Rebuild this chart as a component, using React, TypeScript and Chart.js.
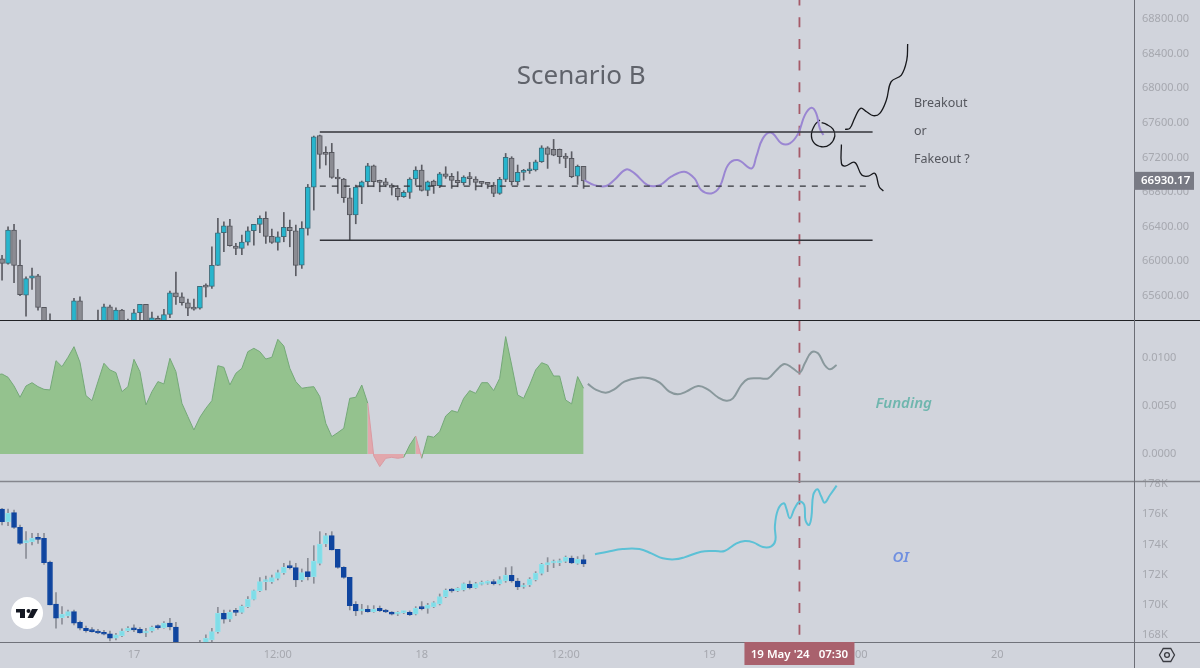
import React, { useEffect, useRef } from 'react';
import Chart from 'chart.js/auto';

// half-hour bars, x = number of bars since 17 May 00:00
const firstBar = -22;

const priceOpen = [66030,65976,66361,65953,65610,65806,65833,65467,65205,65020,64880,64980,65205,65544,65200,65120,65210,65205,65475,65244,65436,65300,65244,65406,65502,65282,65340,65301,65386,65637,65590,65521,65459,65459,65718,65710,65953,66330,66411,66176,66149,66222,66353,66427,66496,66288,66219,66284,66392,66353,65957,66381,66858,67452,67259,67259,66970,66951,66735,66535,66858,66920,67105,66928,66920,66881,66843,66747,66797,66951,67055,66820,66928,66874,67012,66982,66935,66908,66966,66951,66912,66901,66881,66785,66947,67194,66920,67028,67047,67055,67151,67313,67294,67294,67217,67190,66985,67097];
const priceClose = [65976,66361,65953,65614,65802,65833,65467,65128,65013,64900,64990,65110,65544,65205,65120,65220,65290,65475,65205,65436,65205,65200,65406,65502,65301,65348,65282,65386,65637,65590,65521,65459,65448,65710,65702,65953,66330,66411,66180,66149,66222,66353,66427,66496,66288,66219,66284,66392,66353,65953,66381,66858,67440,67236,67236,66970,66951,66735,66535,66858,66920,67105,66920,66912,66881,66854,66747,66797,66951,67055,66820,66920,66874,67012,66982,66935,66908,66974,66955,66912,66901,66889,66785,66947,67201,66920,67028,67047,67055,67151,67313,67236,67228,67209,67190,66978,67097,66928];
const priceHigh = [66068,66400,66427,66246,65822,65922,65849,65467,65394,65100,65050,65170,65571,65590,65250,65270,65436,65506,65494,65463,65444,65332,65444,65502,65502,65413,65367,65444,65656,65876,65637,65564,65564,65710,65741,66168,66496,66457,66484,66207,66303,66400,66427,66527,66573,66373,66342,66565,66477,66419,66458,66889,67448,67459,67325,67363,67063,66959,66843,66881,66928,67132,67113,66939,66959,66897,66874,66816,66966,67093,67113,66928,66939,67028,67093,67016,67036,66989,67028,66978,66920,66912,66912,66970,67247,67209,67113,67063,67143,67170,67336,67325,67409,67298,67247,67267,67113,67097];
const priceLow = [65783,65968,65752,65602,65367,65675,65436,65051,64974,64850,64850,64950,65128,65147,65090,65100,65190,65180,65190,65220,65190,65180,65230,65321,65290,65270,65270,65290,65348,65502,65494,65371,65436,65448,65590,65687,65953,66111,66176,66076,66076,66188,66188,66330,66207,66207,66130,66226,66168,65833,65918,66303,66592,67074,67113,66959,66785,66681,66246,66434,66666,66862,66862,66804,66862,66766,66708,66739,66727,66881,66812,66758,66785,66851,66959,66843,66862,66881,66881,66824,66862,66843,66747,66774,66920,66881,66881,66939,67016,67043,67143,67074,67220,67132,67082,66966,66889,66843];
const lastPrice = 66930.17;

const oiOpen = [176345,175506,176102,175131,174116,174182,174447,174403,172836,170055,169150,169261,169548,168841,168444,168334,168267,168179,168069,167782,167959,168290,168400,168378,168135,168267,168554,168488,168797,168532,166899,166240,165900,166400,167451,167672,168223,169437,169040,169548,169503,169879,170364,170938,171534,171534,171755,172130,172527,172461,171644,172196,171865,172748,174028,174579,173675,172483,171821,170033,169592,169702,169548,169768,169636,169525,169371,169481,169503,169371,169812,169768,169879,170055,170541,170960,170938,170982,171357,171137,171357,171424,171490,171401,171578,171953,171578,171181,171313,171666,172086,172637,172770,172792,172880,173101,172748,172990];
const oiClose = [175506,176058,175131,174072,174182,174403,174337,172792,169989,169106,169371,169548,168775,168444,168290,168223,168135,168047,167782,168003,168267,168444,168334,168135,168267,168532,168488,168797,168532,166899,166240,165900,166400,167450,167782,168223,169437,169040,169503,169503,169923,170364,170938,171534,171578,171799,172130,172483,172461,171644,172130,171865,172902,174028,174579,173630,172483,171821,169945,169592,169702,169548,169724,169614,169525,169371,169503,169525,169349,169768,169746,169989,170144,170541,170982,170916,171092,171401,171137,171401,171446,171468,171401,171666,171953,171578,171181,171313,171710,172108,172681,172792,172814,172924,173145,172770,173035,172703];
const oiHigh = [176389,176345,176279,175286,174844,174734,174734,174734,172902,170805,169879,169658,169658,168929,168598,168488,168378,168312,168267,168113,168400,168554,168665,168488,168444,168598,168665,168885,169106,168841,166950,166300,166450,167650,168003,168444,169835,169658,169658,169768,169989,170541,170982,171799,171909,171975,172306,172748,172902,172748,172372,173079,173917,174844,174734,174844,173675,172527,171821,170210,170033,169945,169945,169923,169702,169548,169548,169570,169592,169879,170210,170099,170210,170717,171048,171092,171137,171446,171578,171490,171578,171578,171666,171865,172461,172527,171755,171424,171799,172196,172748,173123,172968,173035,173233,173233,173189,173300];
const oiLow = [175286,175242,175065,174006,173079,173961,174072,172681,169989,168444,168709,169150,168665,168334,168179,168179,168091,168003,167605,167672,167892,168223,168223,168113,167892,168179,168378,168444,168334,166678,166100,165800,165850,166300,167340,167561,168113,168775,168885,169283,169437,169812,170320,170872,170982,171424,171644,172019,172372,171203,171534,171644,171424,172637,173851,173630,172417,171755,169658,169283,169371,169503,169503,169548,169481,169327,169283,169415,169283,169327,169658,169437,169812,169989,170474,170828,170872,170916,171048,171092,171313,171357,171313,171313,171490,171490,171004,171092,171203,171578,171975,172196,172461,172593,172792,172726,172681,172527];

// funding starts one bar earlier so the area reaches the left edge
const fundingFirstBar = -23;
const fundingValues = [0.00818,0.00828,0.00794,0.00704,0.00587,0.00704,0.00738,0.00697,0.00669,0.00663,0.00966,0.00904,0.01001,0.01111,0.00949,0.00604,0.00552,0.00749,0.00939,0.0087,0.00842,0.00645,0.00697,0.0098,0.00852,0.00507,0.00645,0.00749,0.00725,0.0099,0.00852,0.00525,0.00386,0.00248,0.0038,0.00473,0.00552,0.00914,0.00897,0.00714,0.00835,0.00887,0.01059,0.01094,0.01059,0.00983,0.01001,0.01187,0.01118,0.00887,0.00749,0.0068,0.0069,0.00697,0.00594,0.00317,0.00179,0.00221,0.00266,0.00576,0.00587,0.00714,0.00525,-0.00021,-0.00131,-0.00045,-0.00035,-0.00045,-0.00035,0.00093,0.00186,-0.00045,0.00186,0.00173,0.00231,0.00393,0.00449,0.00431,0.00576,0.00656,0.00628,0.00738,0.00738,0.00656,0.00783,0.01215,0.00921,0.00611,0.00576,0.00714,0.0087,0.00945,0.00921,0.00807,0.00807,0.00559,0.00518,0.00801,0.0068];
const fundingRedSegments = [62, 63, 64, 65, 66, 67, 70];

// hand drawn forecasts, [bar, value]
const pricePath = [[75.1,66939],[76.8,66881],[78.75,66870],[80.1,66939],[82.1,67062],[83.5,67016],[85.7,66881],[87.7,66881],[89.6,66978],[91.8,67036],[93.5,66958],[94.6,66824],[96.3,66785],[97.7,66862],[99.1,67113],[100.7,67170],[103,67074],[103.8,67209],[104.9,67421],[106.3,67486],[108,67363],[109.4,67363],[110.8,67479],[111.9,67690],[113,67775],[113.8,67710],[114.4,67536],[115,67459]];
const circlePath = [[114.4,67633],[113.56,67575],[113,67471],[113.4,67371],[114.7,67324],[116.07,67351],[116.9,67448],[116.6,67529],[115.5,67583],[114.7,67602]];
const breakoutPath = [[118.6,67525],[119.4,67536],[120.2,67652],[121.2,67768],[122.2,67729],[123.3,67683],[124.4,67710],[125.5,67864],[126.3,68076],[128,68153],[128.9,68326],[129.05,68511]];
const fakeoutPath = [[118,67351],[118,67132],[118.6,67101],[120.2,67143],[121.4,66997],[122.5,66985],[123.6,67016],[124.3,66862],[125,66812]];
const fundingPath = [[75.7,0.00725],[77.1,0.00663],[78.7,0.00635],[80.1,0.00669],[81.8,0.00749],[84.3,0.0079],[86,0.00783],[87.7,0.00738],[89.3,0.00645],[90.7,0.00618],[92.1,0.00645],[94.1,0.00704],[95.7,0.00669],[97.4,0.00587],[98.8,0.00552],[99.9,0.00576],[101.3,0.00714],[102.4,0.00776],[104.4,0.00783],[105.8,0.00783],[107.2,0.0087],[108.5,0.00932],[109.9,0.00887],[111.05,0.00842],[111.9,0.00939],[113,0.01052],[114.1,0.01042],[115.2,0.00921],[116.1,0.00876],[117.2,0.00921]];
const oiPath = [[76.9,173342],[79,173518],[81.5,173695],[84.3,173695],[86.3,173408],[88.2,173077],[90.2,173011],[91.8,173143],[94.6,173518],[96.9,173563],[98.5,173563],[100.5,174070],[101.9,174225],[103.3,174137],[104.9,173828],[106.3,173872],[107,174291],[106.9,175174],[107.4,176278],[108.4,176719],[108.8,176388],[109.4,175726],[110.2,176388],[111,176829],[111.8,176608],[112,175615],[112.6,175284],[113,175836],[113.3,177270],[114,177646],[114.6,177204],[115.2,176763],[116.1,177270],[117.2,177888]];

const rangeTop = 67494;
const rangeMid = 66870;
const rangeBottom = 66245;
const rangeStart = 31;
const rangeEnd = 123.2;
const rangeMidEnd = 122.4;

const markerBar = 111;
const markerLabel = "19 May '24   07:30";

const priceTicks = [68800, 68400, 68000, 67600, 67200, 66800, 66400, 66000, 65600];
const fundingTicks = [0.01, 0.005, 0];
const oiTicks = [178000, 176000, 174000, 172000, 170000, 168000];
const timeTicks = [0, 24, 48, 72, 96, 120, 144];
const timeLabels = ['17', '12:00', '18', '12:00', '19', '12:00', '20'];

const tickColor = '#a6a8af';
const uiFont = '"Noto Sans", sans-serif';

const barX = (start: number, values: number[]) => values.map((_, i) => start + i);

const candleSets = (open: number[], high: number[], low: number[], close: number[], axis: string, upFill: string, downFill: string, upEdge: string, downEdge: string, wick: string) => {
  const xs = barX(firstBar, open);
  return [
    {
      type: 'bar',
      yAxisID: axis,
      data: xs.map((x, i) => ({ x, y: [low[i], high[i]] })),
      backgroundColor: wick,
      barThickness: 1,
      grouped: false,
      order: 6,
    },
    {
      type: 'bar',
      yAxisID: axis,
      data: xs.map((x, i) => ({ x, y: [open[i], close[i]] })),
      backgroundColor: xs.map((_, i) => (close[i] >= open[i] ? upFill : downFill)),
      borderColor: xs.map((_, i) => (close[i] >= open[i] ? upEdge : downEdge)),
      borderWidth: 1,
      borderSkipped: false,
      barThickness: 5,
      minBarLength: 2,
      grouped: false,
      order: 5,
    },
  ];
};

const pathSet = (points: number[][], axis: string, color: string, width: number, tension = 0.4) => ({
  type: 'line',
  yAxisID: axis,
  data: points.map(([x, y]) => ({ x, y })),
  borderColor: color,
  borderWidth: width,
  pointRadius: 0,
  tension,
  fill: false,
  order: 2,
});

const fitTicks = (values: number[]) => (scale: any) => {
  scale.ticks = values.map((value) => ({ value }));
};

const noPadding = (scale: any) => {
  scale.paddingTop = 0;
  scale.paddingBottom = 0;
  scale.paddingLeft = 0;
  scale.paddingRight = 0;
};

const paneAxis = (weight: number, min: number, max: number, values: number[], format: (v: number) => string) => ({
  type: 'linear',
  position: 'right',
  stack: 'panes',
  stackWeight: weight,
  min,
  max,
  offset: false,
  grid: { display: false, drawTicks: false },
  border: { display: false },
  afterBuildTicks: fitTicks(values),
  afterFit: (scale: any) => {
    scale.width = 66;
    noPadding(scale);
  },
  ticks: {
    color: tickColor,
    font: { family: uiFont, size: 11 },
    padding: 8,
    autoSkip: false,
    callback: (v: any) => format(Number(v)),
  },
});

// pane rules, the marker line, price and time tags, and the notes on the chart
const overlayPlugin = {
  id: 'overlay',
  beforeDatasetsDraw(chart: any) {
    const { ctx, scales } = chart;
    const x = scales.x.getPixelForValue(markerBar);
    ctx.save();
    ctx.strokeStyle = '#a65a68';
    ctx.lineWidth = 1.8;
    ctx.setLineDash([10, 11.7]);
    ctx.lineDashOffset = 4.5;
    ctx.beginPath();
    ctx.moveTo(x, 0);
    ctx.lineTo(x, scales.x.top);
    ctx.stroke();
    ctx.restore();
  },
  afterDraw(chart: any) {
    const { ctx, scales, width, height } = chart;
    const { x, yPrice, yFunding, yOi } = scales;
    const rule = (y: number, color: string, w: number) => {
      ctx.strokeStyle = color;
      ctx.lineWidth = w;
      ctx.beginPath();
      ctx.moveTo(0, y);
      ctx.lineTo(width, y);
      ctx.stroke();
    };
    ctx.save();
    rule(Math.round(yPrice.bottom) + 0.5, '#202125', 1.2);
    rule(Math.round(yFunding.bottom) + 0.5, '#85868d', 1.5);
    rule(Math.round(yOi.bottom) + 0.5, '#70727a', 1.2);
    ctx.strokeStyle = '#6c6e76';
    ctx.lineWidth = 1;
    ctx.beginPath();
    ctx.moveTo(x.right + 0.5, 0);
    ctx.lineTo(x.right + 0.5, height);
    ctx.stroke();

    // last price tag
    const py = yPrice.getPixelForValue(lastPrice);
    ctx.fillStyle = '#787a84';
    ctx.fillRect(x.right, py - 9, 60, 18);
    ctx.fillStyle = '#ffffff';
    ctx.font = `600 11.5px ${uiFont}`;
    ctx.textAlign = 'left';
    ctx.textBaseline = 'middle';
    ctx.fillText(lastPrice.toFixed(2), x.right + 7, py);

    // crosshair time tag
    const mx = x.getPixelForValue(markerBar);
    ctx.fillStyle = '#a9616d';
    ctx.fillRect(mx - 55, x.top, 110, 23);
    ctx.fillStyle = '#ffffff';
    ctx.font = `600 11.5px ${uiFont}`;
    ctx.textAlign = 'center';
    ctx.fillText(markerLabel, mx, x.top + 13);

    const note = (text: string, bar: number, y: number, font: string, color: string, align = 'left') => {
      ctx.font = font;
      ctx.fillStyle = color;
      ctx.textAlign = align;
      ctx.textBaseline = 'middle';
      ctx.fillText(text, x.getPixelForValue(bar), y + 1);
    };
    note('Scenario B', 74.6, yPrice.getPixelForValue(68141), `26px ${uiFont}`, '#60636b', 'center');
    note('Breakout', 130.1, yPrice.getPixelForValue(67840), `12.5px ${uiFont}`, '#55575e');
    note('or', 130.1, yPrice.getPixelForValue(67517), `12.5px ${uiFont}`, '#55575e');
    note('Fakeout ?', 130.1, yPrice.getPixelForValue(67193), `12.5px ${uiFont}`, '#55575e');
    note('Funding', 128.4, yFunding.getPixelForValue(0.00528), `italic 600 15px ${uiFont}`, '#6fb6ae', 'center');
    note('OI', 127.9, yOi.getPixelForValue(173167), `italic 600 15px ${uiFont}`, '#6f8fe0', 'center');

    // settings hexagon
    const hx = 1167;
    const hy = 655;
    ctx.strokeStyle = '#3a3b41';
    ctx.lineWidth = 1.3;
    ctx.beginPath();
    for (let i = 0; i < 6; i++) {
      const a = (Math.PI / 3) * i;
      const px = hx + 7.5 * Math.cos(a);
      const qy = hy + 7.5 * Math.sin(a);
      if (i === 0) ctx.moveTo(px, qy);
      else ctx.lineTo(px, qy);
    }
    ctx.closePath();
    ctx.stroke();
    ctx.beginPath();
    ctx.arc(hx, hy, 2.4, 0, Math.PI * 2);
    ctx.stroke();

    // logo badge
    ctx.fillStyle = '#ffffff';
    ctx.beginPath();
    ctx.arc(27, 613, 16, 0, Math.PI * 2);
    ctx.fill();
    ctx.fillStyle = '#131722';
    ctx.fillRect(16, 609, 9, 3.5);
    ctx.fillRect(20, 609, 5, 9);
    ctx.beginPath();
    ctx.arc(28.5, 611, 2, 0, Math.PI * 2);
    ctx.fill();
    ctx.beginPath();
    ctx.moveTo(32, 609);
    ctx.lineTo(38, 609);
    ctx.lineTo(33, 618);
    ctx.lineTo(27.5, 618);
    ctx.closePath();
    ctx.fill();
    ctx.restore();
  },
};

const App: React.FC = () => {
  const canvasRef = useRef<HTMLCanvasElement>(null);

  useEffect(() => {
    if (!canvasRef.current) return;
    const fundingX = barX(fundingFirstBar, fundingValues);
    const chart = new Chart(canvasRef.current, {
      type: 'bar',
      data: {
        datasets: [
          ...candleSets(priceOpen, priceHigh, priceLow, priceClose, 'yPrice', '#27b5cd', '#8b8c93', '#3f6b78', '#55565d', '#5b5c63'),
          ...candleSets(oiOpen, oiHigh, oiLow, oiClose, 'yOi', '#7fdde8', '#0f459f', '#8fe0ea', '#0f459f', '#8a8d96'),
          {
            type: 'line',
            yAxisID: 'yFunding',
            data: fundingX.map((x, i) => ({ x, y: fundingValues[i] })),
            borderColor: '#74a878',
            backgroundColor: '#94c28e',
            borderWidth: 1,
            pointRadius: 0,
            tension: 0,
            fill: { value: 0 },
            segment: {
              backgroundColor: (c: any) => (fundingRedSegments.includes(c.p0DataIndex) ? '#e2a7ac' : '#94c28e'),
              borderColor: (c: any) => (fundingRedSegments.includes(c.p0DataIndex) ? '#d99aa2' : '#74a878'),
            },
            order: 4,
          },
          pathSet([[rangeStart, rangeTop], [rangeEnd, rangeTop]], 'yPrice', '#33343a', 1.5, 0),
          pathSet([[rangeStart, rangeBottom], [rangeEnd, rangeBottom]], 'yPrice', '#33343a', 1.5, 0),
          { ...pathSet([[rangeStart, rangeMid], [rangeMidEnd, rangeMid]], 'yPrice', '#33343a', 1.3, 0), borderDash: [6, 6] },
          pathSet(pricePath, 'yPrice', '#9a86d2', 2),
          pathSet(circlePath, 'yPrice', '#17181c', 1.3),
          pathSet(breakoutPath, 'yPrice', '#17181c', 1.3),
          pathSet(fakeoutPath, 'yPrice', '#17181c', 1.3),
          pathSet(fundingPath, 'yFunding', '#89989c', 2),
          pathSet(oiPath, 'yOi', '#5cc1d6', 2),
        ] as any,
      },
      options: {
        responsive: false,
        animation: false,
        devicePixelRatio: 1,
        layout: { padding: 0 },
        plugins: { legend: { display: false }, tooltip: { enabled: false } },
        events: [],
        scales: {
          x: {
            type: 'linear',
            offset: false,
            min: -22.34,
            max: 166.8,
            grid: { display: false, drawTicks: false },
            border: { display: false },
            afterBuildTicks: fitTicks(timeTicks),
            afterFit: (scale: any) => {
              scale.height = 26;
              noPadding(scale);
            },
            ticks: {
              color: tickColor,
              font: { family: uiFont, size: 11 },
              padding: 6,
              autoSkip: false,
              maxRotation: 0,
              callback: (v: any) => timeLabels[timeTicks.indexOf(Number(v))],
            },
          },
          yPrice: paneAxis(320, 65322, 69020, priceTicks, (v) => v.toFixed(2)),
          yFunding: paneAxis(161, -0.0028, 0.01387, fundingTicks, (v) => v.toFixed(4)),
          yOi: paneAxis(161, 167536, 178199, oiTicks, (v) => `${v / 1000}K`),
        } as any,
      },
      plugins: [overlayPlugin],
    } as any);
    return () => chart.destroy();
  }, []);

  return (
    <div style={{ position: 'fixed', left: 0, top: 0, width: 1200, height: 668, background: '#d1d4dc' }}>
      <canvas ref={canvasRef} width={1200} height={668} style={{ display: 'block' }} />
    </div>
  );
};

export default App;
